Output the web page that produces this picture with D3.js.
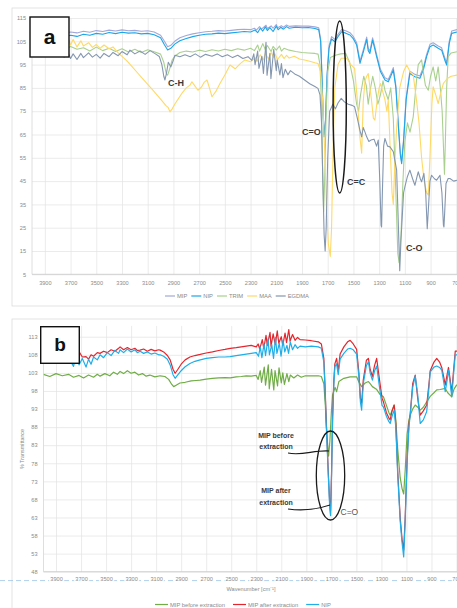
<!DOCTYPE html>
<html>
<head>
<meta charset="utf-8">
<script src="https://cdn.jsdelivr.net/npm/d3@7"></script>
<style>
  body { margin: 0; background: #fff; }
  svg { display: block; font-family: 'Liberation Sans', Arial, sans-serif; }
  .grid line { stroke: #e2e2e2; stroke-width: 0.7; }
  .grid .domain { display: none; }
  .labels .domain { display: none; }
  .labels text { fill: #8a8a8a; }
  .legend text { fill: #8a8a8a; font-size: 5.8px; }
  .note { fill: #3a3a3a; font-weight: bold; }
</style>
</head>
<body>
<svg id="chart" width="457" height="608"></svg>
<script>
// tick labels
const xTicks = [3900, 3700, 3500, 3300, 3100, 2900, 2700, 2500, 2300, 2100, 1900, 1700, 1500, 1300, 1100, 900, 700];
const yTicksA = [5, 15, 25, 35, 45, 55, 65, 75, 85, 95, 105, 115];
const yTicksB = [48, 53, 58, 63, 68, 73, 78, 83, 88, 93, 98, 103, 108, 113];

// panel a series: [wavenumber, % transmittance]
const mipA = [[4000,108.5],[3950,108.2],[3900,108.8],[3850,108.1],[3800,108.9],[3750,108.4],[3700,109.0],[3650,108.6],[3600,109.3],[3550,108.9],[3500,109.6],[3450,109.2],[3400,109.8],[3350,109.4],[3300,109.9],[3250,109.5],[3200,109.7],[3150,109.3],[3100,109.5],[3050,109.0],[3000,107.6],[2970,105.0],[2945,102.7],[2920,103.3],[2890,105.0],[2850,106.5],[2800,107.5],[2750,108.2],[2700,108.7],[2650,109.1],[2600,109.3],[2550,109.6],[2500,109.4],[2450,109.7],[2400,110.0],[2350,110.2],[2300,110.0],[2270,110.6],[2255,109.8],[2230,111.3],[2215,110.2],[2180,111.9],[2170,110.5],[2140,111.6],[2125,110.6],[2100,112.2],[2090,110.8],[2060,111.7],[2045,111.0],[2020,112.0],[2000,111.4],[1950,111.6],[1900,111.5],[1850,111.5],[1800,111.2],[1770,110.8],[1755,106],[1745,91],[1735,73],[1728,65],[1718,71],[1705,91],[1690,103],[1670,107],[1644,105.8],[1620,108],[1592,110],[1560,109.5],[1527,108.7],[1500,107],[1475,104.4],[1449,96.5],[1420,102],[1397,106.8],[1385,102],[1372,100.8],[1351,106.5],[1335,103],[1320,99.4],[1290,93],[1255,89.4],[1229,88.6],[1210,91],[1190,93.7],[1170,86],[1150,69],[1135,57],[1125,53.5],[1110,63],[1090,81],[1061,92.2],[1022,90.8],[983,90.1],[955,94],[931,99.4],[905,103.7],[880,104.4],[841,103],[814,102.2],[790,98],[775,95.8],[755,105],[736,109.4],[695,110]];
const nipA = [[4000,107],[3950,106.8],[3900,107.2],[3850,106.5],[3800,107.4],[3750,106.9],[3700,107.6],[3650,107.1],[3600,108.0],[3550,107.6],[3500,108.4],[3450,108.0],[3400,108.8],[3350,108.3],[3300,108.9],[3250,108.5],[3200,108.7],[3150,108.2],[3100,108.4],[3050,107.8],[3000,106.5],[2970,103.5],[2945,101.3],[2920,102.0],[2890,103.8],[2850,105.2],[2800,106.2],[2750,107.0],[2700,107.6],[2650,108.0],[2600,108.2],[2550,108.5],[2500,108.3],[2450,108.6],[2400,108.9],[2350,109.2],[2300,109.0],[2265,109.8],[2245,108.7],[2225,110.6],[2205,109.4],[2185,111.2],[2170,109.6],[2150,110.9],[2125,109.2],[2100,111.5],[2085,110.0],[2065,111.0],[2045,110.2],[2020,111.3],[2000,110.6],[1950,111.0],[1900,110.8],[1850,110.9],[1800,110.5],[1770,110.0],[1755,105],[1745,90],[1735,72],[1728,64],[1718,70],[1705,90],[1690,102],[1670,106],[1644,104.8],[1620,107],[1592,109.1],[1560,108.5],[1527,107.7],[1500,106],[1475,103.4],[1449,95.5],[1420,101],[1397,105.8],[1385,101],[1372,99.8],[1351,105.5],[1335,102],[1320,98.4],[1290,92],[1255,88.4],[1229,87.6],[1210,90],[1190,92.7],[1170,85],[1150,68],[1135,56],[1125,52.5],[1110,62],[1090,80],[1061,91.2],[1022,89.8],[983,89.1],[955,93],[931,98.4],[905,102.7],[880,103.4],[841,102],[814,101.2],[790,97],[775,94.8],[755,104],[736,108.4],[695,109]];
const trimA = [[4000,102],[3950,101.5],[3900,102.4],[3850,101.2],[3800,102.6],[3750,101.4],[3700,102.8],[3650,101.6],[3600,102.2],[3550,100.8],[3500,102.5],[3450,101.0],[3400,102.0],[3350,100.6],[3300,101.8],[3250,100.4],[3200,101.6],[3150,100.2],[3100,101.4],[3050,100.5],[3000,99.5],[2975,96],[2955,91],[2945,90.5],[2930,93],[2910,97],[2890,98.6],[2850,100.2],[2800,100.8],[2750,100.4],[2700,101.2],[2650,100.6],[2600,101.4],[2550,100.8],[2500,101.6],[2450,101.0],[2400,101.8],[2350,101.2],[2300,102.0],[2270,101.0],[2245,103.4],[2230,100.8],[2205,104.0],[2185,101.4],[2170,103.2],[2140,100.6],[2125,102.8],[2100,101.2],[2075,103.0],[2060,100.8],[2040,102.0],[2000,101.2],[1950,100.6],[1900,100.2],[1850,100.0],[1800,99.8],[1775,99.5],[1760,95],[1750,80],[1740,50],[1732,32],[1724,45],[1712,75],[1700,92],[1680,98],[1640,99],[1600,99.6],[1560,99.8],[1530,96],[1500,88],[1475,78],[1460,75],[1445,82],[1420,90],[1400,86],[1385,78],[1370,84],[1350,90],[1330,85],[1310,78],[1290,82],[1270,88],[1255,84],[1230,80],[1210,85],[1190,72],[1170,40],[1155,14],[1145,10],[1130,22],[1115,45],[1100,62],[1080,70],[1060,66],[1035,72.6],[1010,88],[996,95],[970,97],[957,92],[940,86],[918,84],[900,90],[880,94],[860,88],[841,94],[825,85.5],[810,75],[800,60],[792,48],[785,62],[775,85],[763,98.4],[740,100],[695,100.5]];
const maaA = [[4000,104],[3950,103.2],[3900,104.6],[3850,102.8],[3800,105.0],[3750,103.0],[3720,106.5],[3700,103.4],[3680,105.8],[3650,102.6],[3620,105.2],[3600,103.0],[3560,104.4],[3530,102.4],[3500,103.6],[3470,102.0],[3440,103.4],[3400,101.8],[3370,102.6],[3330,100.0],[3300,98.5],[3260,96.5],[3220,94.0],[3180,91.5],[3140,89.0],[3100,86.5],[3060,84.0],[3020,81.5],[2990,79.5],[2960,77.5],[2940,76.5],[2927,74.7],[2910,76.0],[2890,78.0],[2860,80.5],[2830,83.0],[2800,85.0],[2771,86.2],[2756,87.6],[2735,86.0],[2709,84.0],[2680,85.5],[2660,87.5],[2639,88.4],[2620,85.0],[2600,81.2],[2570,83.5],[2538,86.9],[2500,90.5],[2460,94.8],[2420,93.2],[2380,95.4],[2344,97.0],[2300,96.2],[2265,98.0],[2250,96.4],[2225,99.2],[2200,97.0],[2185,99.8],[2160,97.4],[2140,100.2],[2120,98.0],[2110,99.6],[2090,97.2],[2060,99.4],[2040,97.6],[2020,99.0],[2000,97.8],[1960,98.6],[1920,97.4],[1880,97.0],[1840,96.4],[1800,95.8],[1776,95.5],[1755,92],[1740,80],[1725,60],[1710,35],[1695,18],[1680,12.7],[1670,25],[1660,55],[1645,85],[1620,95],[1595,97.7],[1553,97.7],[1520,95],[1491,93.4],[1470,80],[1450,64],[1436,57],[1424,79],[1410,88],[1397,90],[1385,91.2],[1360,80],[1345,72],[1333,71.2],[1315,80],[1300,85],[1290,86.9],[1270,83],[1255,80],[1240,75],[1229,79.8],[1215,60],[1200,40],[1190,35],[1180,50],[1165,66.9],[1140,85],[1110,92],[1086,94.8],[1060,92],[1035,90.5],[1010,80],[990,70],[970,55],[950,45],[930,40],[918,39],[905,55],[890,78],[880,85.5],[860,82],[841,78.3],[825,82],[800,87],[770,89],[740,90],[695,90.5]];
const egdmaA = [[4000,100],[3950,99.0],[3900,100.4],[3850,98.6],[3800,99.8],[3750,98.2],[3720,100.2],[3700,97.6],[3680,99.6],[3650,97.2],[3620,99.8],[3600,98.0],[3560,100.0],[3530,98.2],[3500,99.4],[3470,97.8],[3440,99.8],[3400,98.4],[3370,100.2],[3330,98.8],[3300,100.6],[3260,99.2],[3238,101.2],[3200,99.6],[3160,100.8],[3120,99.4],[3082,101.0],[3040,99.6],[3010,98.5],[2990,95],[2975,90],[2966,88.4],[2955,91],[2940,96],[2920,94],[2900,97],[2888,99],[2850,98.4],[2810,99.2],[2770,98.4],[2730,99.6],[2690,98.2],[2650,99.4],[2600,98.6],[2560,99.6],[2520,98.4],[2480,99.2],[2440,98.0],[2400,99.0],[2360,97.6],[2320,98.4],[2290,96.8],[2275,99.6],[2265,95.0],[2245,100.8],[2235,93.4],[2212,98.6],[2200,91.2],[2180,104.6],[2172,90.4],[2150,99.8],[2142,89.0],[2120,101.6],[2100,92.4],[2093,97.0],[2072,90.6],[2060,95.4],[2048,89.4],[2030,93.0],[2010,90.6],[1990,92.4],[1957,91.0],[1920,90.0],[1880,88.4],[1840,86.8],[1800,85.6],[1776,84.8],[1760,82],[1748,70],[1738,45],[1728,22],[1720,15],[1712,25],[1700,55],[1685,75],[1660,78],[1640,76],[1620,78.5],[1595,80.5],[1570,79],[1540,78],[1510,77.5],[1491,76.9],[1470,72],[1450,66.9],[1436,64],[1424,68],[1410,66],[1397,64],[1380,62],[1364,62.6],[1340,63],[1320,60],[1307,62.6],[1295,45],[1285,26],[1281,25.3],[1275,40],[1265,60],[1255,63.3],[1235,60],[1216,59.7],[1190,57.6],[1164,49.7],[1150,25],[1140,6.5],[1130,20],[1110,40],[1100,42.5],[1080,47],[1061,49.7],[1040,46],[1022,43.2],[1005,47],[996,49],[980,46],[970,44.7],[952,48.3],[938,40],[926,24.6],[915,35],[905,45],[892,47.5],[870,46],[853,45.4],[827,47.5],[812,40],[800,26],[796,25.3],[790,32],[780,44],[763,46.1],[750,46.1],[720,45],[695,45.4]];

// panel b series
const mipBeforeB = [[4000,102.6],[3950,102.0],[3900,102.8],[3850,102.2],[3800,102.6],[3760,101.8],[3716,102.3],[3680,101.6],[3640,102.4],[3600,101.8],[3570,102.6],[3548,102.1],[3510,102.8],[3470,102.2],[3440,103.2],[3410,102.6],[3388,103.4],[3360,102.8],[3330,103.6],[3300,102.9],[3270,103.2],[3240,102.4],[3210,102.8],[3180,102.1],[3150,102.4],[3110,101.9],[3068,102.2],[3030,102.0],[3000,101.2],[2975,99.8],[2960,99.2],[2940,99.6],[2910,100.2],[2868,100.4],[2820,100.8],[2780,100.9],[2748,101.0],[2700,101.3],[2650,101.5],[2600,101.6],[2550,101.7],[2508,101.6],[2460,101.9],[2420,102.0],[2380,102.2],[2340,102.1],[2300,102.3],[2285,101.2],[2268,103.6],[2258,100.4],[2236,104.6],[2226,99.6],[2204,105.2],[2196,98.6],[2178,104.0],[2160,98.3],[2150,103.6],[2130,99.4],[2118,104.4],[2100,100.2],[2088,103.0],[2075,99.8],[2055,102.8],[2040,100.6],[2028,102.4],[2000,101.6],[1970,102.4],[1940,101.8],[1908,102.2],[1860,102.2],[1804,102.2],[1780,102.0],[1760,100],[1748,94],[1736,86],[1722,80],[1712,84],[1700,92],[1690,97],[1670,99],[1658,97.8],[1640,100.6],[1600,101.5],[1550,101.9],[1498,101.9],[1480,100.5],[1458,99.2],[1430,100.2],[1404,100.6],[1390,100],[1372,99.2],[1340,98.5],[1310,97],[1284,96.4],[1260,94],[1240,92],[1230,91.3],[1215,92.5],[1198,94.1],[1185,90],[1170,82],[1150,74],[1135,71],[1122,69.5],[1110,76],[1095,86],[1080,90],[1070,91.3],[1050,93],[1030,94.1],[1010,93.5],[990,92.7],[965,93.5],[938,95],[910,96.5],[880,97.5],[858,98.3],[830,98.4],[790,98.7],[770,97.5],[750,96.8],[738,96.4],[720,98.5],[700,99.6],[692,99.6]];
const mipAfterB = [[4000,108.4],[3950,107.6],[3900,108.8],[3850,107.0],[3800,108.6],[3760,107.2],[3716,108.9],[3690,107.4],[3660,107.5],[3640,106.8],[3620,108.0],[3600,107.6],[3570,108.6],[3548,108.4],[3520,109.0],[3490,108.6],[3460,109.4],[3430,109.0],[3400,109.8],[3388,110.2],[3360,109.4],[3330,110.0],[3300,109.4],[3270,109.8],[3250,109.2],[3228,109.3],[3200,109.6],[3170,109.0],[3140,109.5],[3110,109.1],[3080,109.4],[3068,109.3],[3040,108.8],[3010,107.8],[2988,106.6],[2965,104.0],[2948,102.9],[2930,103.8],[2900,105.4],[2868,106.6],[2830,107.4],[2790,107.8],[2748,108.1],[2700,108.5],[2650,108.8],[2600,109.2],[2550,109.5],[2508,109.8],[2460,110.0],[2420,110.2],[2380,110.4],[2340,110.6],[2300,110.2],[2285,111.0],[2272,109.6],[2252,112.2],[2240,109.8],[2222,113.4],[2212,110.6],[2190,114.2],[2182,110.4],[2165,113.8],[2148,110.8],[2132,114.6],[2120,111.2],[2100,113.0],[2088,110.6],[2070,114.0],[2058,111.4],[2040,115.0],[2030,111.8],[2010,113.6],[1990,112.0],[1970,112.8],[1950,112.2],[1908,112.1],[1860,111.9],[1804,111.6],[1780,111.0],[1760,107],[1750,99],[1740,89],[1725,76],[1712,66],[1706,65],[1698,76],[1690,91],[1680,101],[1672,105.5],[1658,107],[1645,103.5],[1630,108.2],[1600,110.2],[1570,111.6],[1550,112.0],[1525,111.0],[1498,109.5],[1480,103],[1468,96],[1458,94.6],[1445,101],[1420,106.5],[1404,107],[1390,104],[1372,102],[1355,105],[1338,107],[1315,101],[1295,96],[1284,95],[1260,92],[1240,90.5],[1230,90],[1215,92.5],[1198,94.1],[1185,89],[1170,76],[1150,63],[1135,57],[1122,54],[1110,63],[1095,79],[1080,89],[1070,91.5],[1050,100],[1030,102.4],[1010,96],[990,91.3],[965,92.5],[938,94.1],[920,100],[910,103.6],[880,106],[858,107],[835,106],[818,104.5],[800,101.5],[790,99.6],[775,102.5],[764,104.5],[750,101],[738,97.5],[725,103],[710,109],[692,109]];
const nipB = [[4000,107],[3950,106.4],[3900,107.6],[3850,105.8],[3800,107.2],[3760,104.8],[3740,107.8],[3716,105.2],[3690,107.0],[3660,104.6],[3640,106.8],[3620,105.4],[3600,107.4],[3570,106.6],[3548,108.0],[3520,107.2],[3490,108.6],[3460,107.8],[3430,109.2],[3400,108.4],[3388,109.4],[3360,108.6],[3330,109.6],[3300,108.8],[3270,109.4],[3250,108.6],[3228,109.0],[3200,108.4],[3170,108.8],[3140,108.2],[3110,108.5],[3080,108.0],[3068,108.0],[3040,107.6],[3010,106.8],[2988,105.2],[2965,102.5],[2948,101.5],[2930,102.3],[2900,103.6],[2868,104.7],[2830,105.6],[2790,106.2],[2748,106.6],[2700,107.0],[2650,107.2],[2600,107.4],[2550,107.4],[2508,107.5],[2460,107.8],[2420,108.0],[2380,108.2],[2340,108.4],[2300,108.6],[2282,107.6],[2268,110.2],[2255,107.2],[2238,111.0],[2226,107.8],[2206,112.4],[2195,108.0],[2176,110.8],[2162,107.0],[2146,112.8],[2135,108.4],[2116,111.2],[2102,107.6],[2086,112.0],[2072,108.8],[2055,110.6],[2042,108.4],[2028,111.6],[2010,109.4],[1990,110.8],[1970,109.8],[1950,110.4],[1908,110.2],[1860,110.4],[1804,110.2],[1780,109.8],[1760,106],[1750,98],[1740,88],[1725,75],[1712,65],[1706,63.5],[1698,75],[1690,90],[1680,100],[1672,104.7],[1658,105.5],[1645,102.5],[1630,106.8],[1600,108.4],[1570,109.6],[1550,109.8],[1525,109.4],[1498,108.2],[1480,102],[1468,95],[1458,92.7],[1445,100],[1420,105],[1404,106.1],[1390,103],[1372,101.0],[1355,103.5],[1338,104.9],[1315,99],[1295,94],[1284,93.6],[1260,91],[1240,89.5],[1230,89.0],[1215,91],[1198,92.7],[1185,88],[1170,75],[1150,62],[1135,56],[1122,52.1],[1110,62],[1095,78],[1080,88],[1070,91.3],[1050,99],[1030,102.1],[1010,97],[990,89.0],[965,90],[938,92.3],[920,99],[910,103.3],[880,104.6],[858,104.9],[835,104.5],[818,103.8],[800,100],[790,97.8],[775,101],[764,103.8],[750,100],[738,96.4],[725,102],[710,108],[692,108]];

const seriesA = [
  { name: 'MIP', values: mipA, colour: '#a3a8d8' },
  { name: 'NIP', values: nipA, colour: '#1ba6e6' },
  { name: 'TRIM', values: trimA, colour: '#a9d08e' },
  { name: 'MAA', values: maaA, colour: '#ffd966' },
  { name: 'EGDMA', values: egdmaA, colour: '#8497b0' },
];
const seriesB = [
  { name: 'MIP before extraction', values: mipBeforeB, colour: '#70ad47' },
  { name: 'MIP after extraction', values: mipAfterB, colour: '#e3262d' },
  { name: 'NIP', values: nipB, colour: '#1faee8' },
];

const svg = d3.select('#chart');

const drawPanel = (opt) => {
  const x = d3.scaleLinear().domain([4000, 700]).range([opt.left, opt.right]);
  const y = d3.scaleLinear().domain(opt.yDomain).range([opt.bottom, opt.top]);
  const g = svg.append('g');

  g.append('rect')
    .attr('x', 12).attr('y', opt.frameTop)
    .attr('width', 460).attr('height', opt.frameHeight)
    .attr('fill', 'none').attr('stroke', '#dcdcdc').attr('stroke-width', 0.8);

  g.append('g')
    .attr('class', 'grid')
    .attr('transform', `translate(${opt.left},0)`)
    .call(d3.axisLeft(y).tickValues(opt.yTicks).tickSize(-(470 - opt.left)).tickFormat(''));

  g.append('g')
    .attr('class', 'grid')
    .attr('transform', `translate(0,${opt.bottom})`)
    .call(d3.axisBottom(x).tickValues(xTicks).tickSize(-(opt.bottom - opt.top)).tickFormat(''));

  g.append('line')
    .attr('x1', opt.left).attr('x2', opt.left)
    .attr('y1', opt.top).attr('y2', opt.bottom)
    .attr('stroke', '#d6d6d6').attr('stroke-width', 0.8);
  g.append('line')
    .attr('x1', opt.left).attr('x2', 470)
    .attr('y1', opt.bottom).attr('y2', opt.bottom)
    .attr('stroke', '#c8c8c8').attr('stroke-width', 0.8);

  if (opt.dashed) {
    g.append('line')
      .attr('x1', 0).attr('x2', 457)
      .attr('y1', opt.dashed).attr('y2', opt.dashed)
      .attr('stroke', '#9cc2e5').attr('stroke-width', 0.8)
      .attr('stroke-dasharray', '5,3');
  }

  const yLab = g.append('g')
    .attr('class', 'labels')
    .attr('transform', `translate(${opt.left},0)`)
    .call(d3.axisLeft(y).tickValues(opt.yTicks).tickSize(0).tickPadding(6));
  yLab.selectAll('text').attr('font-size', 5.6).attr('font-family', null);

  const xLab = g.append('g')
    .attr('class', 'labels')
    .attr('transform', `translate(0,${opt.bottom})`)
    .call(d3.axisBottom(x).tickValues(xTicks).tickFormat(d3.format('d')).tickSize(0).tickPadding(opt.xPad));
  xLab.selectAll('text').attr('font-size', 5.6).attr('font-family', null);
  if (opt.dashed) {
    xLab.selectAll('text')
      .attr('stroke', '#fff').attr('stroke-width', 3).attr('paint-order', 'stroke');
  }

  const clipId = `clip-${opt.id}`;
  svg.append('clipPath').attr('id', clipId)
    .append('rect')
    .attr('x', opt.left).attr('y', opt.top - 8)
    .attr('width', 470 - opt.left).attr('height', opt.bottom - opt.top + 8);

  const line = d3.line()
    .x(d => x(d[0]))
    .y(d => y(d[1]));

  g.append('g')
    .attr('clip-path', `url(#${clipId})`)
    .selectAll('.series')
    .data(opt.series)
    .enter()
    .append('path')
    .attr('class', 'series')
    .attr('d', d => line(d.values))
    .attr('fill', 'none')
    .attr('stroke', d => d.colour)
    .attr('stroke-width', opt.lineWidth)
    .attr('stroke-linejoin', 'round');

  // legend, laid out left to right
  const legend = g.append('g').attr('class', 'legend');
  let lx = opt.legendX;
  opt.series.forEach((s) => {
    legend.append('line')
      .attr('x1', lx).attr('x2', lx + opt.legendLine)
      .attr('y1', opt.legendY).attr('y2', opt.legendY)
      .attr('stroke', s.colour).attr('stroke-width', 1.2);
    const t = legend.append('text')
      .attr('x', lx + opt.legendLine + 2)
      .attr('y', opt.legendY + 2)
      .text(s.name);
    lx += opt.legendLine + 2 + t.node().getComputedTextLength() + opt.legendGap;
  });

  // panel letter box
  g.append('rect')
    .attr('x', opt.box[0]).attr('y', opt.box[1])
    .attr('width', opt.box[2]).attr('height', opt.box[3])
    .attr('fill', '#fff').attr('stroke', '#111').attr('stroke-width', 1.4);
  g.append('text')
    .attr('x', opt.box[0] + opt.box[2] / 2)
    .attr('y', opt.letterY)
    .attr('text-anchor', 'middle')
    .attr('font-size', opt.letterSize)
    .attr('font-weight', 'bold')
    .attr('fill', '#111')
    .text(opt.id);

  return { x, y, g };
};

const a = drawPanel({
  id: 'a', left: 32, right: 456.3, top: 18, bottom: 274.3,
  yDomain: [5, 115], yTicks: yTicksA, xPad: 6.5,
  frameTop: 8, frameHeight: 298, series: seriesA, lineWidth: 1.1,
  legendX: 165, legendY: 296, legendLine: 10, legendGap: 4,
  box: [30, 17, 39, 40], letterY: 44, letterSize: 21,
});

const b = drawPanel({
  id: 'b', left: 43.5, right: 456.5, top: 325.9, bottom: 571.7,
  yDomain: [48, 116], yTicks: yTicksB, xPad: 5.2, dashed: 580.6,
  frameTop: 319, frameHeight: 300, series: seriesB, lineWidth: 1.2,
  legendX: 155, legendY: 604.5, legendLine: 13, legendGap: 8,
  box: [40.7, 326.7, 38.6, 36.6], letterY: 351, letterSize: 19,
});

// panel a annotations
a.g.append('ellipse')
  .attr('cx', 339.7).attr('cy', 107).attr('rx', 6.6).attr('ry', 86)
  .attr('fill', 'none').attr('stroke', '#1a1a1a').attr('stroke-width', 1.5);
[['C-H', 168, 86], ['C=O', 302, 135], ['C=C', 347, 185], ['C-O', 406, 251]].forEach(([txt, tx, ty]) => {
  a.g.append('text').attr('class', 'note')
    .attr('x', tx).attr('y', ty).attr('font-size', 9).text(txt);
});

// panel b annotations
b.g.append('ellipse')
  .attr('cx', 330.5).attr('cy', 475.5).attr('rx', 14.2).attr('ry', 44.5)
  .attr('fill', 'none').attr('stroke', '#1a1a1a').attr('stroke-width', 1.3);
b.g.append('path')
  .attr('d', 'M288,453 C302,456 314,450 329,451')
  .attr('fill', 'none').attr('stroke', '#1a1a1a').attr('stroke-width', 1.1);
b.g.append('path')
  .attr('d', 'M288,509 C302,511 318,509 330,505')
  .attr('fill', 'none').attr('stroke', '#1a1a1a').attr('stroke-width', 1.1);
[['MIP before', 437.5], ['extraction', 449], ['MIP after', 493], ['extraction', 504.5]].forEach(([txt, ty]) => {
  b.g.append('text').attr('class', 'note')
    .attr('x', 276).attr('y', ty).attr('text-anchor', 'middle')
    .attr('font-size', 7).text(txt);
});
b.g.append('text')
  .attr('x', 340.5).attr('y', 515).attr('font-size', 8.5).attr('fill', '#555')
  .text('C=O');

// panel b axis titles
b.g.append('text')
  .attr('transform', 'translate(24,449) rotate(-90)')
  .attr('text-anchor', 'middle').attr('font-size', 5.4).attr('fill', '#8a8a8a')
  .text('% Transmittance');
b.g.append('text')
  .attr('x', 251).attr('y', 591).attr('text-anchor', 'middle')
  .attr('font-size', 5.6).attr('fill', '#8a8a8a')
  .text('Wavenumber [cm⁻¹]');
</script>
</body>
</html>
